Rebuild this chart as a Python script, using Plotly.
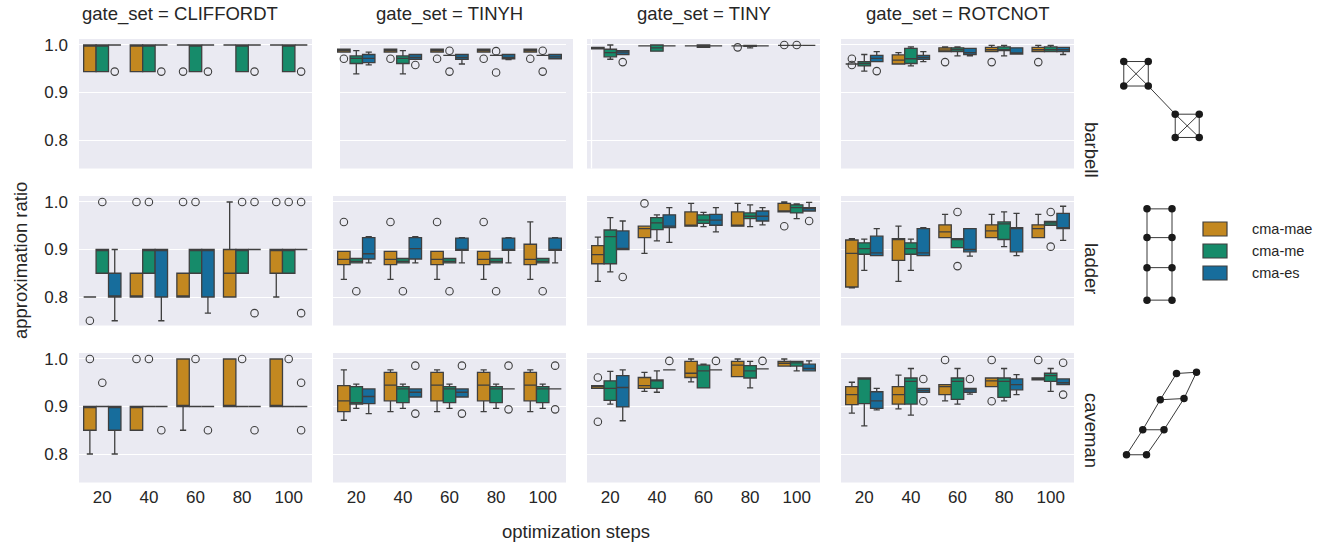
import plotly.graph_objects as go

W, H = 1337, 544

steps = ["20", "40", "60", "80", "100"]
gate_sets = ["CLIFFORDT", "TINYH", "TINY", "ROTCNOT"]
graphs = ["barbell", "ladder", "caveman"]
methods = ["cma-mae", "cma-me", "cma-es"]
colors = ["#C38820", "#168B6A", "#176D9C"]

# Each list: one box per step, (lower whisker, q1, median, q3, upper whisker)
barbell_cliffordt_mae = [(0.944, 0.944, 1.0, 1.0, 1.0), (0.944, 0.944, 1.0, 1.0, 1.0), (1.0, 1.0, 1.0, 1.0, 1.0), (1.0, 1.0, 1.0, 1.0, 1.0), (1.0, 1.0, 1.0, 1.0, 1.0)]
barbell_cliffordt_me = [(0.944, 0.944, 1.0, 1.0, 1.0), (0.944, 0.944, 1.0, 1.0, 1.0), (0.944, 0.944, 1.0, 1.0, 1.0), (0.944, 0.944, 1.0, 1.0, 1.0), (0.944, 0.944, 1.0, 1.0, 1.0)]
barbell_cliffordt_es = [(1.0, 1.0, 1.0, 1.0, 1.0), (1.0, 1.0, 1.0, 1.0, 1.0), (1.0, 1.0, 1.0, 1.0, 1.0), (1.0, 1.0, 1.0, 1.0, 1.0), (1.0, 1.0, 1.0, 1.0, 1.0)]
barbell_cliffordt_out = [("20", 2, 0.944), ("40", 2, 0.944), ("60", 0, 0.944), ("60", 2, 0.944), ("80", 2, 0.944), ("100", 2, 0.944)]

barbell_tinyh_mae = [(0.985, 0.985, 0.988, 0.991, 0.991), (0.985, 0.985, 0.988, 0.991, 0.991), (0.985, 0.985, 0.988, 0.991, 0.991), (0.985, 0.985, 0.988, 0.991, 0.991), (0.985, 0.985, 0.988, 0.991, 0.991)]
barbell_tinyh_me = [(0.939, 0.961, 0.972, 0.977, 0.988), (0.939, 0.961, 0.972, 0.977, 0.988), (0.978, 0.978, 0.978, 0.978, 0.978), (0.978, 0.978, 0.978, 0.978, 0.978), (0.978, 0.978, 0.978, 0.978, 0.978)]
barbell_tinyh_es = [(0.958, 0.963, 0.972, 0.980, 0.985), (0.970, 0.970, 0.974, 0.980, 0.980), (0.960, 0.970, 0.974, 0.980, 0.980), (0.969, 0.971, 0.974, 0.980, 0.980), (0.971, 0.971, 0.975, 0.980, 0.980)]
barbell_tinyh_out = [("20", 0, 0.971), ("40", 0, 0.971), ("60", 0, 0.971), ("80", 0, 0.971), ("100", 0, 0.971),
                     ("40", 2, 0.958), ("60", 1, 0.988), ("60", 1, 0.944), ("80", 1, 0.987), ("80", 1, 0.942),
                     ("100", 1, 0.988), ("100", 1, 0.944)]

barbell_tiny_mae = [(0.992, 0.992, 0.993, 0.995, 0.995), (0.998, 0.998, 0.998, 0.998, 0.998), (0.998, 0.998, 0.998, 0.998, 0.998), (0.998, 0.998, 0.998, 0.998, 0.998), (0.999, 0.999, 0.999, 0.999, 0.999)]
barbell_tiny_me = [(0.970, 0.975, 0.984, 0.991, 1.0), (0.987, 0.987, 0.994, 1.0, 1.0), (0.995, 0.995, 0.997, 1.0, 1.0), (0.994, 0.997, 0.998, 0.999, 0.999), (0.999, 0.999, 0.999, 0.999, 0.999)]
barbell_tiny_es = [(0.980, 0.980, 0.985, 0.988, 0.988), (0.998, 0.998, 0.998, 0.998, 0.998), (0.998, 0.998, 0.998, 0.998, 0.998), (0.998, 0.998, 0.998, 0.998, 0.998), (0.999, 0.999, 0.999, 0.999, 0.999)]
barbell_tiny_out = [("20", 2, 0.964), ("80", 0, 0.995), ("100", 0, 1.0), ("100", 1, 1.0)]

barbell_rotcnot_mae = [(0.960, 0.960, 0.960, 0.960, 0.960), (0.960, 0.960, 0.968, 0.979, 0.984), (0.986, 0.986, 0.989, 0.994, 0.996), (0.986, 0.986, 0.990, 0.995, 0.999), (0.986, 0.986, 0.990, 0.995, 0.999)]
barbell_rotcnot_me = [(0.945, 0.956, 0.961, 0.965, 0.980), (0.956, 0.961, 0.971, 0.993, 0.996), (0.977, 0.986, 0.990, 0.994, 0.996), (0.977, 0.988, 0.990, 0.996, 0.999), (0.986, 0.986, 0.990, 0.996, 0.999)]
barbell_rotcnot_es = [(0.965, 0.965, 0.972, 0.978, 0.986), (0.965, 0.970, 0.974, 0.978, 0.986), (0.977, 0.980, 0.984, 0.993, 0.993), (0.981, 0.981, 0.982, 0.994, 0.994), (0.980, 0.986, 0.990, 0.995, 0.995)]
barbell_rotcnot_out = [("20", 0, 0.971), ("20", 0, 0.958), ("20", 2, 0.945), ("60", 0, 0.964), ("80", 0, 0.964), ("100", 0, 0.964)]

ladder_cliffordt_mae = [(0.80, 0.80, 0.80, 0.80, 0.80), (0.80, 0.80, 0.80, 0.85, 0.85), (0.80, 0.80, 0.80, 0.85, 0.85), (0.80, 0.80, 0.85, 0.90, 1.0), (0.80, 0.85, 0.90, 0.90, 0.90)]
ladder_cliffordt_me = [(0.85, 0.85, 0.90, 0.90, 0.90), (0.85, 0.85, 0.90, 0.90, 0.90), (0.85, 0.85, 0.90, 0.90, 0.90), (0.85, 0.85, 0.90, 0.90, 0.90), (0.85, 0.85, 0.90, 0.90, 0.90)]
ladder_cliffordt_es = [(0.75, 0.80, 0.80, 0.85, 0.90), (0.75, 0.80, 0.90, 0.90, 0.90), (0.766, 0.80, 0.90, 0.90, 0.90), (0.90, 0.90, 0.90, 0.90, 0.90), (0.90, 0.90, 0.90, 0.90, 0.90)]
ladder_cliffordt_out = [("20", 0, 0.75), ("20", 1, 1.0), ("40", 0, 1.0), ("40", 1, 1.0), ("60", 0, 1.0), ("60", 1, 1.0),
                        ("80", 1, 1.0), ("80", 2, 1.0), ("80", 2, 0.766), ("100", 0, 1.0), ("100", 1, 1.0),
                        ("100", 2, 1.0), ("100", 2, 0.766)]

ladder_tinyh_mae = [(0.837, 0.868, 0.879, 0.896, 0.896), (0.837, 0.868, 0.879, 0.896, 0.896), (0.837, 0.868, 0.879, 0.896, 0.896), (0.837, 0.868, 0.879, 0.896, 0.896), (0.837, 0.868, 0.879, 0.911, 0.958)]
ladder_tinyh_me = [(0.872, 0.872, 0.875, 0.881, 0.881), (0.872, 0.872, 0.875, 0.881, 0.881), (0.872, 0.872, 0.875, 0.881, 0.881), (0.872, 0.872, 0.875, 0.881, 0.881), (0.872, 0.872, 0.875, 0.881, 0.881)]
ladder_tinyh_es = [(0.872, 0.880, 0.891, 0.925, 0.927), (0.872, 0.880, 0.902, 0.925, 0.927), (0.872, 0.898, 0.900, 0.924, 0.925), (0.872, 0.898, 0.900, 0.924, 0.925), (0.872, 0.898, 0.900, 0.924, 0.925)]
ladder_tinyh_out = [("20", 0, 0.958), ("40", 0, 0.958), ("60", 0, 0.958), ("80", 0, 0.958),
                    ("20", 1, 0.812), ("40", 1, 0.812), ("60", 1, 0.812), ("80", 1, 0.812), ("100", 1, 0.812)]

ladder_tiny_mae = [(0.833, 0.870, 0.889, 0.908, 0.926), (0.892, 0.925, 0.944, 0.949, 0.949), (0.949, 0.949, 0.951, 0.979, 0.997), (0.949, 0.949, 0.951, 0.979, 0.997), (0.979, 0.979, 0.981, 0.997, 1.0)]
ladder_tiny_me = [(0.853, 0.870, 0.927, 0.941, 0.967), (0.918, 0.942, 0.956, 0.967, 0.973), (0.948, 0.955, 0.962, 0.973, 0.978), (0.948, 0.965, 0.970, 0.977, 0.994), (0.965, 0.977, 0.988, 0.994, 0.996)]
ladder_tiny_es = [(0.900, 0.900, 0.900, 0.939, 0.960), (0.915, 0.946, 0.949, 0.973, 0.988), (0.937, 0.951, 0.962, 0.974, 0.988), (0.952, 0.960, 0.970, 0.981, 0.988), (0.981, 0.981, 0.986, 0.988, 0.999)]
ladder_tiny_out = [("20", 2, 0.842), ("40", 0, 0.997), ("100", 0, 0.949), ("100", 2, 0.960)]

ladder_rotcnot_mae = [(0.819, 0.821, 0.892, 0.920, 0.923), (0.833, 0.877, 0.921, 0.923, 0.949), (0.925, 0.925, 0.937, 0.952, 0.974), (0.925, 0.925, 0.939, 0.952, 0.974), (0.925, 0.925, 0.944, 0.952, 0.974)]
ladder_rotcnot_me = [(0.856, 0.890, 0.902, 0.914, 0.922), (0.856, 0.890, 0.902, 0.914, 0.922), (0.904, 0.904, 0.922, 0.923, 0.923), (0.906, 0.921, 0.954, 0.958, 0.979), (0.951, 0.951, 0.956, 0.959, 0.959)]
ladder_rotcnot_es = [(0.887, 0.887, 0.893, 0.928, 0.944), (0.887, 0.887, 0.893, 0.944, 0.946), (0.886, 0.895, 0.900, 0.944, 0.944), (0.887, 0.895, 0.944, 0.946, 0.976), (0.919, 0.944, 0.946, 0.976, 0.991)]
ladder_rotcnot_out = [("60", 1, 0.979), ("60", 1, 0.865), ("100", 1, 0.979), ("100", 1, 0.906)]

caveman_cliffordt_mae = [(0.80, 0.85, 0.90, 0.90, 0.90), (0.85, 0.85, 0.90, 0.90, 0.90), (0.85, 0.90, 0.90, 1.0, 1.0), (0.90, 0.90, 0.90, 1.0, 1.0), (0.90, 0.90, 0.90, 1.0, 1.0)]
caveman_cliffordt_me = [(0.90, 0.90, 0.90, 0.90, 0.90), (0.90, 0.90, 0.90, 0.90, 0.90), (0.90, 0.90, 0.90, 0.90, 0.90), (0.90, 0.90, 0.90, 0.90, 0.90), (0.90, 0.90, 0.90, 0.90, 0.90)]
caveman_cliffordt_es = [(0.80, 0.85, 0.90, 0.90, 0.90), (0.90, 0.90, 0.90, 0.90, 0.90), (0.90, 0.90, 0.90, 0.90, 0.90), (0.90, 0.90, 0.90, 0.90, 0.90), (0.90, 0.90, 0.90, 0.90, 0.90)]
caveman_cliffordt_out = [("20", 0, 1.0), ("20", 1, 0.95), ("40", 0, 1.0), ("40", 1, 1.0), ("40", 2, 0.85),
                         ("60", 1, 1.0), ("60", 2, 0.85), ("80", 1, 1.0), ("80", 2, 0.85),
                         ("100", 1, 1.0), ("100", 2, 0.95), ("100", 2, 0.85)]

caveman_tinyh_mae = [(0.871, 0.889, 0.912, 0.944, 0.977), (0.889, 0.912, 0.945, 0.972, 0.977), (0.889, 0.912, 0.945, 0.972, 0.977), (0.889, 0.912, 0.945, 0.972, 0.977), (0.889, 0.912, 0.945, 0.972, 0.977)]
caveman_tinyh_me = [(0.896, 0.905, 0.908, 0.942, 0.947), (0.896, 0.908, 0.937, 0.942, 0.947), (0.896, 0.908, 0.937, 0.942, 0.947), (0.896, 0.908, 0.937, 0.942, 0.947), (0.896, 0.908, 0.937, 0.942, 0.947)]
caveman_tinyh_es = [(0.885, 0.906, 0.921, 0.937, 0.937), (0.920, 0.920, 0.930, 0.937, 0.937), (0.920, 0.920, 0.930, 0.937, 0.937), (0.937, 0.937, 0.937, 0.937, 0.937), (0.937, 0.937, 0.937, 0.937, 0.937)]
caveman_tinyh_out = [("40", 2, 0.986), ("40", 2, 0.885), ("60", 2, 0.986), ("60", 2, 0.885),
                     ("80", 2, 0.986), ("80", 2, 0.894), ("100", 2, 0.986), ("100", 2, 0.894)]

caveman_tiny_mae = [(0.938, 0.938, 0.942, 0.944, 0.944), (0.932, 0.938, 0.944, 0.961, 0.972), (0.952, 0.961, 0.970, 0.995, 1.0), (0.963, 0.963, 0.987, 0.995, 1.0), (0.985, 0.985, 0.991, 0.995, 1.0)]
caveman_tiny_me = [(0.905, 0.913, 0.938, 0.954, 0.974), (0.930, 0.938, 0.954, 0.956, 0.975), (0.939, 0.939, 0.975, 0.987, 0.989), (0.939, 0.960, 0.975, 0.986, 0.995), (0.975, 0.985, 0.992, 0.995, 0.995)]
caveman_tiny_es = [(0.870, 0.899, 0.940, 0.965, 0.977), (0.977, 0.977, 0.977, 0.977, 0.977), (0.977, 0.977, 0.977, 0.977, 0.977), (0.979, 0.979, 0.979, 0.979, 0.979), (0.975, 0.975, 0.980, 0.989, 0.996)]
caveman_tiny_out = [("20", 0, 0.961), ("20", 0, 0.868), ("40", 2, 0.996), ("60", 2, 0.996), ("80", 2, 0.996)]

caveman_rotcnot_mae = [(0.886, 0.904, 0.925, 0.942, 0.951), (0.895, 0.905, 0.925, 0.942, 0.966), (0.912, 0.925, 0.942, 0.946, 0.946), (0.942, 0.942, 0.954, 0.960, 0.960), (0.956, 0.956, 0.958, 0.960, 0.960)]
caveman_rotcnot_me = [(0.859, 0.906, 0.958, 0.960, 0.960), (0.882, 0.905, 0.953, 0.960, 0.980), (0.905, 0.915, 0.953, 0.960, 0.980), (0.912, 0.919, 0.953, 0.960, 0.980), (0.932, 0.953, 0.965, 0.970, 0.980)]
caveman_rotcnot_es = [(0.893, 0.896, 0.912, 0.931, 0.938), (0.930, 0.930, 0.934, 0.938, 0.938), (0.926, 0.930, 0.935, 0.938, 0.938), (0.925, 0.935, 0.946, 0.958, 0.967), (0.946, 0.946, 0.950, 0.958, 0.958)]
caveman_rotcnot_out = [("40", 2, 0.958), ("40", 2, 0.911), ("60", 0, 0.998), ("60", 2, 0.958),
                       ("80", 0, 0.998), ("80", 0, 0.911), ("100", 0, 0.998), ("100", 2, 0.992), ("100", 2, 0.925)]

# Graph drawings (node layout in grid units, y downward) and edges
barbell_nodes = [(0, 0), (1, 0), (0, 1), (1, 1), (2.1, 2.15), (3.08, 2.15), (2.1, 3.1), (3.08, 3.1)]
barbell_edges = [(0, 1), (0, 2), (0, 3), (1, 2), (1, 3), (2, 3), (4, 5), (4, 6), (4, 7), (5, 6), (5, 7), (6, 7), (3, 4)]
ladder_nodes = [(0, 0), (1, 0), (0, 1.15), (1, 1.15), (0, 2.35), (1, 2.35), (0, 3.65), (1, 3.65)]
ladder_edges = [(0, 1), (2, 3), (4, 5), (6, 7), (0, 2), (2, 4), (4, 6), (1, 3), (3, 5), (5, 7)]
caveman_nodes = [(0, 3.3), (0.8, 3.3), (0.65, 2.3), (1.5, 2.3), (1.35, 1.1), (2.3, 1.05), (2.0, 0.05), (2.8, 0)]
caveman_edges = [(0, 1), (0, 2), (1, 3), (2, 3), (2, 4), (3, 5), (4, 5), (4, 6), (5, 7), (6, 7)]

EDGE = "#3f3f3f"
TXT = "#262626"
PANEL = "#EAEAF2"
FONT = "Liberation Sans, Arial, sans-serif"

col_px = [(79, 312), (333, 566), (587, 820), (841, 1074)]
row_px = [(39, 168.5), (196, 325.5), (353, 482.5)]
title_x = [180, 449.5, 703.5, 957.5]
row_label_y = [150, 268, 430]
YR = [0.740, 1.0126]
BW = 0.8 / 3

def fx(px):
    return px / W

def fy(py):
    return 1 - py / H

panels = {
    ("barbell", "CLIFFORDT"): (barbell_cliffordt_mae, barbell_cliffordt_me, barbell_cliffordt_es, barbell_cliffordt_out),
    ("barbell", "TINYH"): (barbell_tinyh_mae, barbell_tinyh_me, barbell_tinyh_es, barbell_tinyh_out),
    ("barbell", "TINY"): (barbell_tiny_mae, barbell_tiny_me, barbell_tiny_es, barbell_tiny_out),
    ("barbell", "ROTCNOT"): (barbell_rotcnot_mae, barbell_rotcnot_me, barbell_rotcnot_es, barbell_rotcnot_out),
    ("ladder", "CLIFFORDT"): (ladder_cliffordt_mae, ladder_cliffordt_me, ladder_cliffordt_es, ladder_cliffordt_out),
    ("ladder", "TINYH"): (ladder_tinyh_mae, ladder_tinyh_me, ladder_tinyh_es, ladder_tinyh_out),
    ("ladder", "TINY"): (ladder_tiny_mae, ladder_tiny_me, ladder_tiny_es, ladder_tiny_out),
    ("ladder", "ROTCNOT"): (ladder_rotcnot_mae, ladder_rotcnot_me, ladder_rotcnot_es, ladder_rotcnot_out),
    ("caveman", "CLIFFORDT"): (caveman_cliffordt_mae, caveman_cliffordt_me, caveman_cliffordt_es, caveman_cliffordt_out),
    ("caveman", "TINYH"): (caveman_tinyh_mae, caveman_tinyh_me, caveman_tinyh_es, caveman_tinyh_out),
    ("caveman", "TINY"): (caveman_tiny_mae, caveman_tiny_me, caveman_tiny_es, caveman_tiny_out),
    ("caveman", "ROTCNOT"): (caveman_rotcnot_mae, caveman_rotcnot_me, caveman_rotcnot_es, caveman_rotcnot_out),
}

fig = go.Figure()
layout = dict(
    template="none",
    width=W, height=H, margin=dict(l=0, r=0, t=0, b=0, autoexpand=False),
    paper_bgcolor="white", plot_bgcolor="white",
    showlegend=False, font=dict(family=FONT, color=TXT, size=17),
)
annotations = []
shapes = []

for r, g in enumerate(graphs):
    for c, gs in enumerate(gate_sets):
        idx = r * 4 + c + 1
        xa = "x" if idx == 1 else f"x{idx}"
        ya = "y" if idx == 1 else f"y{idx}"
        stats = panels[(g, gs)]
        for h in range(3):
            rows = stats[h]
            pos = [i + (h - 1) * BW for i in range(len(steps))]
            fig.add_trace(go.Box(
                x=pos,
                lowerfence=[s[0] for s in rows], q1=[s[1] for s in rows],
                median=[s[2] for s in rows], q3=[s[3] for s in rows],
                upperfence=[s[4] for s in rows],
                width=BW, whiskerwidth=0.5, boxpoints=False,
                fillcolor=colors[h], line=dict(color=EDGE, width=1.3),
                name=methods[h], xaxis=xa, yaxis=ya, hoverinfo="skip",
            ))
            outs = [o for o in stats[3] if o[1] == h]
            if outs:
                fig.add_trace(go.Scatter(
                    x=[steps.index(o[0]) + (h - 1) * BW for o in outs],
                    y=[o[2] for o in outs], mode="markers",
                    marker=dict(symbol="circle-open", size=7.5, color=EDGE, line=dict(width=1.1)),
                    xaxis=xa, yaxis=ya, hoverinfo="skip",
                ))
        x0, x1 = col_px[c]
        y0, y1 = row_px[r]
        layout["xaxis" + ("" if idx == 1 else str(idx))] = dict(
            domain=[fx(x0), fx(x1)], anchor=ya, range=[-0.5, len(steps) - 0.5],
            tickvals=list(range(len(steps))), ticktext=steps,
            showticklabels=(r == 2), showgrid=False, zeroline=False, showline=False, ticks="",
            automargin=False, ticklabelstandoff=2,
            tickfont=dict(size=17, color=TXT, family=FONT), fixedrange=True,
        )
        layout["yaxis" + ("" if idx == 1 else str(idx))] = dict(
            domain=[fy(y1), fy(y0)], anchor=xa, range=YR,
            tickvals=[0.8, 0.9, 1.0], ticktext=["0.8", "0.9", "1.0"],
            showticklabels=(c == 0), showgrid=True, gridcolor="white", gridwidth=1.3,
            zeroline=False, showline=False, ticks="", ticklabelstandoff=10, automargin=False,
            tickfont=dict(size=17, color=TXT, family=FONT), fixedrange=True,
        )
        if (r, c) == (0, 1):
            # top-row background patch is slightly offset in the reference
            shapes.append(dict(type="rect", xref="paper", yref=f"{ya} domain",
                               x0=fx(340), x1=fx(573), y0=0, y1=1, layer="below",
                               fillcolor=PANEL, line=dict(width=0)))
        else:
            shapes.append(dict(type="rect", xref=f"{xa} domain", yref=f"{ya} domain",
                               x0=0, x1=1, y0=0, y1=1, layer="below",
                               fillcolor=PANEL, line=dict(width=0)))
        if (r, c) == (0, 2):
            shapes.append(dict(type="line", xref="paper", yref=f"{ya} domain",
                               x0=fx(591.5), x1=fx(591.5), y0=0, y1=1, layer="below",
                               line=dict(color="white", width=1.3)))
    # row label
    annotations.append(dict(
        text=g, x=fx(1092), y=fy(row_label_y[r]), xref="paper", yref="paper",
        textangle=90, showarrow=False, font=dict(size=18.5, color=TXT, family=FONT),
        xanchor="center", yanchor="middle",
    ))

for c, gs in enumerate(gate_sets):
    annotations.append(dict(
        text=f"gate_set = {gs}", x=fx(title_x[c]), y=fy(14),
        xref="paper", yref="paper", showarrow=False, xanchor="center", yanchor="middle",
        font=dict(size=18.5, color=TXT, family=FONT),
    ))

annotations.append(dict(text="approximation ratio", x=fx(20), y=fy(261), xref="paper", yref="paper",
                        textangle=-90, showarrow=False, xanchor="center", yanchor="middle",
                        font=dict(size=18.5, color=TXT, family=FONT)))
annotations.append(dict(text="optimization steps", x=fx(576), y=fy(531), xref="paper", yref="paper",
                        showarrow=False, xanchor="center", yanchor="middle",
                        font=dict(size=18.5, color=TXT, family=FONT)))

# Legend (drawn manually to mimic seaborn patches)
leg_y = [229, 251, 273]
for h, m in enumerate(methods):
    shapes.append(dict(type="rect", xref="paper", yref="paper",
                       x0=fx(1203), x1=fx(1227), y0=fy(leg_y[h] + 7), y1=fy(leg_y[h] - 7),
                       fillcolor=colors[h], line=dict(color=EDGE, width=1.2)))
    annotations.append(dict(text=m, x=fx(1250), y=fy(leg_y[h]), xref="paper", yref="paper",
                            showarrow=False, xanchor="left", yanchor="middle",
                            font=dict(size=14.5, color=TXT, family=FONT)))

# Graph drawings in small dedicated axes
graph_specs = [
    (barbell_nodes, barbell_edges, (1161.5, 99.5), 24.5),
    (ladder_nodes, ladder_edges, (1159.5, 254.5), 25.0),
    (caveman_nodes, caveman_edges, (1161.5, 413.5), 25.0),
]
half = 60
for k, (nodes, edges, (cx, cy), unit) in enumerate(graph_specs):
    aid = 13 + k
    xs = [n[0] for n in nodes]
    ys = [n[1] for n in nodes]
    mx = (min(xs) + max(xs)) / 2
    my = (min(ys) + max(ys)) / 2
    span = half / unit
    ex, ey = [], []
    for a, b in edges:
        ex += [nodes[a][0], nodes[b][0], None]
        ey += [nodes[a][1], nodes[b][1], None]
    fig.add_trace(go.Scatter(x=ex, y=ey, mode="lines", line=dict(color="#222222", width=0.9),
                             xaxis=f"x{aid}", yaxis=f"y{aid}", hoverinfo="skip"))
    fig.add_trace(go.Scatter(x=xs, y=ys, mode="markers", marker=dict(color="#1a1a1a", size=7.5),
                             xaxis=f"x{aid}", yaxis=f"y{aid}", hoverinfo="skip"))
    layout[f"xaxis{aid}"] = dict(domain=[fx(cx - half), fx(cx + half)], anchor=f"y{aid}",
                                 range=[mx - span, mx + span], visible=False, fixedrange=True)
    layout[f"yaxis{aid}"] = dict(domain=[fy(cy + half), fy(cy - half)], anchor=f"x{aid}",
                                 range=[my + span, my - span], visible=False, fixedrange=True)

layout["annotations"] = annotations
layout["shapes"] = shapes
fig.update_layout(**layout)
fig.write_html("out.html", config={"displayModeBar": False},
               post_script="document.body.style.margin='0px';")
